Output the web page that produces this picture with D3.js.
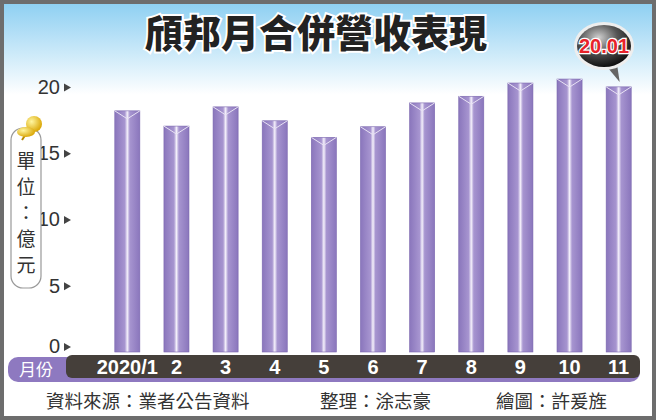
<!DOCTYPE html>
<html><head><meta charset="utf-8">
<script src="https://cdn.jsdelivr.net/npm/d3@7"></script>
<style>body{margin:0;}svg{display:block;font-family:"Liberation Sans",Arial,sans-serif;}</style>
</head><body><div id="chart"></div>
<script>
// chart values
var months = ["2020/1", "2", "3", "4", "5", "6", "7", "8", "9", "10", "11"];
var revenue = [18.2, 17.05, 18.5, 17.45, 16.2, 17.0, 18.8, 19.3, 20.3, 20.6, 20.01];
var yTicks = [0, 5, 10, 15, 20];

var svgWidth = 656, svgHeight = 420;
var svg = d3.select("#chart").append("svg").attr("width", svgWidth).attr("height", svgHeight);
var defs = svg.append("defs");

var bg = defs.append("linearGradient").attr("id", "bg").attr("x1", 0).attr("y1", 0).attr("x2", 0).attr("y2", 1);
bg.append("stop").attr("offset", "0").attr("stop-color", "#8fd0f2");
bg.append("stop").attr("offset", "0.22").attr("stop-color", "#ffffff");
bg.append("stop").attr("offset", "1").attr("stop-color", "#ffffff");

var barG = defs.append("linearGradient").attr("id", "barG").attr("x1", 0).attr("y1", 0).attr("x2", 1).attr("y2", 0);
barG.append("stop").attr("offset", "0").attr("stop-color", "#8a76bc");
barG.append("stop").attr("offset", "0.4").attr("stop-color", "#a795d0");
barG.append("stop").attr("offset", "0.5").attr("stop-color", "#f4f0fb");
barG.append("stop").attr("offset", "0.6").attr("stop-color", "#a795d0");
barG.append("stop").attr("offset", "1").attr("stop-color", "#8a76bc");

var ball = defs.append("radialGradient").attr("id", "ball").attr("cx", "0.4").attr("cy", "0.3").attr("r", "0.7");
ball.append("stop").attr("offset", "0").attr("stop-color", "#cfcfcf");
ball.append("stop").attr("offset", "0.5").attr("stop-color", "#555");
ball.append("stop").attr("offset", "1").attr("stop-color", "#111");

var pin = defs.append("radialGradient").attr("id", "pin").attr("cx", "0.35").attr("cy", "0.35").attr("r", "0.7");
pin.append("stop").attr("offset", "0").attr("stop-color", "#fff6a0");
pin.append("stop").attr("offset", "1").attr("stop-color", "#d9a400");

// frame + background
svg.append("rect").attr("width", svgWidth).attr("height", svgHeight).attr("fill", "#6d6d6d");
svg.append("rect").attr("x", 4).attr("y", 4).attr("width", svgWidth - 8).attr("height", svgHeight - 8).attr("fill", "url(#bg)");

// title
svg.append("text").attr("x", 316).attr("y", 47).attr("text-anchor", "middle")
  .attr("font-family", "Noto Sans CJK TC").attr("font-weight", 900).attr("font-size", 38)
  .attr("fill", "#222").attr("stroke", "#fff").attr("stroke-width", 4).attr("paint-order", "stroke")
  .text("頎邦月合併營收表現");

// scales
var x = d3.scaleBand().domain(months).range([103, 643]).paddingInner(0.49).paddingOuter(0.24);
var y = d3.scaleLinear().domain([0, 20]).range([352, 87]);

// bars
svg.selectAll(".bar").data(revenue).enter().append("rect")
  .attr("class", "bar")
  .attr("x", (d, i) => x(months[i]))
  .attr("y", d => y(d))
  .attr("width", x.bandwidth())
  .attr("height", d => y(0) - y(d))
  .attr("fill", "url(#barG)")
  .attr("stroke", "#7a66ae").attr("stroke-width", 0.6);
// bevel V on bar tops
svg.selectAll(".bevel").data(revenue).enter().append("path")
  .attr("d", (d, i) => {
    var x0 = x(months[i]), w = x.bandwidth(), t = y(d);
    return `M${x0},${t}L${x0 + w / 2},${t + 8}L${x0 + w},${t}`;
  })
  .attr("fill", "none").attr("stroke", "#e8e2f4").attr("stroke-width", 1);

// y axis labels with arrow markers
var yAxis = svg.append("g").attr("transform", "translate(68,0)")
  .call(d3.axisLeft(y).tickValues(yTicks).tickSize(0).tickPadding(8));
yAxis.select(".domain").remove();
yAxis.selectAll("text").attr("font-size", 20).attr("fill", "#333").attr("font-family", "Liberation Sans Narrow, Liberation Sans");
yAxis.selectAll(".tick").append("path").attr("d", "M-4,-4L3,0L-4,4Z").attr("fill", "#444");
yAxis.selectAll(".tick").filter(d => d === 0).attr("transform", "translate(0," + (y(0) - 5) + ")");

// unit box
svg.append("rect").attr("x", 11).attr("y", 128).attr("width", 30).attr("height", 160).attr("rx", 12)
  .attr("fill", "#fff").attr("stroke", "#999").attr("stroke-width", 1.2);
["單", "位", "：", "億", "元"].forEach(function(c, i) {
  svg.append("text").attr("x", 26).attr("y", 168 + i * 26).attr("text-anchor", "middle")
    .attr("font-family", "Noto Sans CJK TC").attr("font-size", 19).attr("fill", "#333").text(c);
});
svg.append("line").attr("x1", 22).attr("y1", 140).attr("x2", 30).attr("y2", 128).attr("stroke", "#b88a00").attr("stroke-width", 2);
svg.append("circle").attr("cx", 34).attr("cy", 124).attr("r", 8).attr("fill", "url(#pin)");
svg.append("ellipse").attr("cx", 26).attr("cy", 132).attr("rx", 9).attr("ry", 5).attr("fill", "url(#pin)");

// month band
svg.append("rect").attr("x", 8).attr("y", 357).attr("width", 632).attr("height", 25).attr("rx", 10).attr("fill", "#8e79c0");
svg.append("rect").attr("x", 66).attr("y", 355).attr("width", 574).attr("height", 23).attr("rx", 6).attr("fill", "#453f3a");
svg.append("text").attr("x", 36).attr("y", 376).attr("text-anchor", "middle")
  .attr("font-family", "Noto Sans CJK TC").attr("font-size", 17).attr("fill", "#fff").text("月份");
var xAxis = svg.append("g").attr("transform", "translate(0,367)")
  .call(d3.axisBottom(x).tickSize(0).tickPadding(0));
xAxis.select(".domain").remove();
xAxis.selectAll("text").attr("dy", "0.35em").attr("font-size", 20).attr("font-weight", "bold")
  .attr("fill", "#fff").attr("font-family", "Liberation Sans Narrow, Liberation Sans");

// callout bubble for last value
var lastX = x(months[10]) + x.bandwidth() / 2;
svg.append("path").attr("d", `M${lastX - 14},64L${lastX + 1},82L${lastX - 2},62Z`).attr("fill", "#666");
svg.append("ellipse").attr("cx", 604).attr("cy", 46).attr("rx", 30).attr("ry", 24).attr("fill", "#eee");
svg.append("ellipse").attr("cx", 604).attr("cy", 46).attr("rx", 27).attr("ry", 21).attr("fill", "url(#ball)");
svg.append("text").attr("x", 604).attr("y", 53).attr("text-anchor", "middle")
  .attr("font-family", "Liberation Sans Narrow, Liberation Sans").attr("font-weight", "bold").attr("font-size", 20)
  .attr("fill", "#e8232a").attr("stroke", "#fff").attr("stroke-width", 2.5).attr("paint-order", "stroke")
  .text(revenue[10].toFixed(2));

// footer
var foot = [["資料來源：業者公告資料", 46], ["整理：涂志豪", 320], ["繪圖：許爰旌", 496]];
foot.forEach(function(f) {
  svg.append("text").attr("x", f[1]).attr("y", 408).attr("font-family", "Noto Sans CJK TC")
    .attr("font-size", 18.5).attr("fill", "#333").text(f[0]);
});
</script></body></html>
